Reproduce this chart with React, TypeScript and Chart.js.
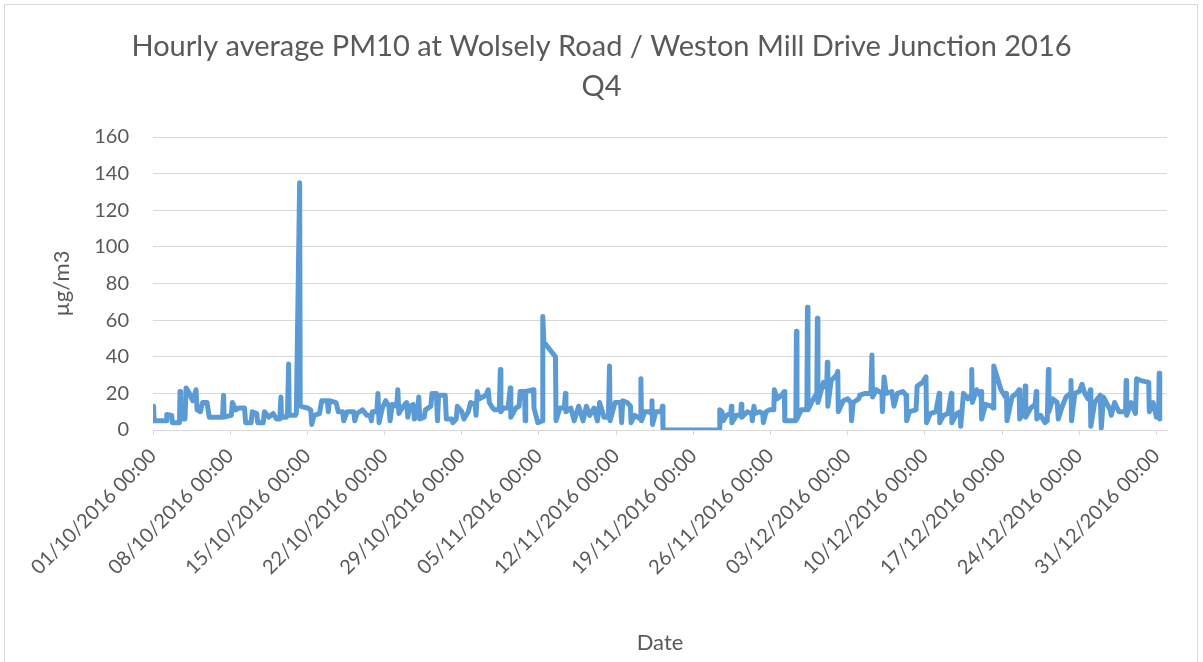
import React, { useEffect, useRef } from "react";
import { Chart, registerables } from "chart.js";

Chart.register(...registerables);

// Time in days since 01/10/2016 00:00 (hourly readings, change points)
const dayOffsets = [
  0.05, 0.1, 0.6, 1.2, 1.25, 1.7, 1.75, 2.4, 2.45, 2.5, 2.9, 3.0, 3.3, 3.6, 3.9, 4.0, 4.3, 4.5, 4.9, 5.1,
  5.5, 6.3, 6.4, 6.45, 7.1, 7.2, 7.5, 7.8, 8.3, 8.4, 8.9, 9.0, 9.4, 9.5, 10.0, 10.1, 10.5, 10.9, 11.2, 11.5,
  11.6, 11.65, 12.1, 12.2, 12.3, 12.35, 12.9, 13.0, 13.3, 13.35,
  14.0, 14.3, 14.4, 14.6, 15.1, 15.3, 15.8, 15.9, 16.0, 16.6, 16.8, 17.2, 17.3, 17.6, 18.2, 18.3, 18.5, 19.0,
  19.4, 19.7, 19.8, 19.9, 20.3, 20.4, 20.5, 20.8, 21.1, 21.4, 21.5, 21.7, 22.1, 22.2, 22.3, 22.7, 23.0, 23.1,
  23.3, 23.6, 23.7, 24.0, 24.1, 24.2, 24.6, 24.7, 25.2, 25.3, 25.7, 25.8, 25.9, 26.5, 26.6, 27.1, 27.2, 27.5,
  27.6, 28.0, 28.2, 28.6,
  28.8, 29.2, 29.3, 29.4, 29.6, 29.9, 30.2, 30.4, 30.5, 30.8, 31.0, 31.4, 31.5, 31.55, 31.8, 32.2, 32.4, 32.45,
  32.9, 33.2, 33.3, 33.7, 33.75, 33.8, 34.5, 34.55, 34.9, 35.3, 35.35, 35.45, 36.5, 36.55, 36.9, 37.3, 37.4,
  37.45, 37.9, 38.2, 38.6, 39.0, 39.3, 39.6, 40.0, 40.3, 40.5, 40.9, 41.3, 41.4, 41.45, 41.9, 42.4, 42.5, 42.6,
  43.0,
  43.3, 43.35, 43.7, 44.2, 44.25, 44.3, 44.6, 45.0, 45.2, 45.25, 45.3, 45.6, 46.1, 46.2, 46.25, 51.35, 51.4,
  51.6, 51.7, 52.0, 52.4, 52.45, 52.5, 52.9, 53.3, 53.35, 53.4, 53.9, 54.3, 54.35, 54.5, 54.6, 55.0, 55.3,
  55.35, 55.6, 55.9, 56.3, 56.35, 56.6, 57.0, 57.25, 57.3,
  58.3, 58.35, 58.4, 58.8, 59.3, 59.35, 59.4, 59.8, 60.2, 60.25, 60.3, 60.8, 61.1, 61.15, 61.2, 61.5, 62.0,
  62.1, 62.15, 62.6, 63.0, 63.3, 63.35, 63.5, 64.0, 64.1, 64.6, 65.1, 65.2, 65.25, 65.6, 66.1, 66.15, 66.3,
  66.5, 67.0, 67.2, 67.5, 68.0, 68.3, 68.35, 68.6, 69.2, 69.3, 69.8, 70.1, 70.15,
  70.5, 71.0, 71.3, 71.35, 71.7, 72.1, 72.4, 72.45, 72.9, 73.2, 73.25, 73.5, 73.9, 74.2, 74.25, 74.3, 74.7,
  75.0, 75.1, 75.15, 75.5, 76.0, 76.2, 76.25, 76.9, 77.3, 77.4, 77.45, 77.9, 78.3, 78.55, 78.6, 79.0, 79.1,
  79.15, 79.6, 80.0, 80.1, 80.15, 80.5, 80.9, 81.1, 81.2, 81.25, 81.6, 82.0, 82.1, 82.4, 82.8, 83.2, 83.25,
  83.3, 83.6, 84.0, 84.25, 84.5, 84.8, 85.0, 85.05, 85.4, 85.9, 86.0, 86.2, 86.8, 86.9, 87.2, 87.6, 88.2,
  88.25, 88.3, 88.7, 89.1, 89.2, 89.6, 90.3, 90.35, 90.7, 91.0, 91.2, 91.25, 91.3,
];

// Hourly average PM10 (µg/m3) at each change point
const pm10Values = [
  13, 5, 5, 5, 8.5, 8, 4, 4, 21, 6, 6, 23, 20, 16, 22, 11, 10, 15, 15, 7,
  7, 7, 19, 7, 8, 15, 11, 12, 12, 4, 4, 10, 9, 4, 4, 10, 7, 9, 6, 6,
  18, 7, 7, 10, 36, 8, 8, 9, 135, 13,
  12, 11, 3, 8, 9, 16, 16, 10, 16, 15, 10, 10, 5, 10, 10, 5, 9, 11,
  8, 8, 5, 10, 10, 20, 4, 12, 16, 13, 5, 14, 13, 22, 9, 13, 15, 7,
  13, 14, 6, 8, 18, 6, 7, 11, 13, 20, 20, 5, 19, 19, 6, 6, 4, 6,
  13, 10, 6, 10,
  15, 14, 8, 21, 17, 18, 19, 22, 15, 12, 11, 11, 33, 10, 12, 12, 23, 7,
  12, 13, 21, 21, 5, 21, 22, 12, 4, 5, 62, 48, 40, 5, 12, 12, 20,
  10, 12, 5, 13, 5, 13, 8, 12, 5, 15, 7, 7, 35, 5, 15, 15, 4, 16,
  15,
  13, 4, 8, 6, 28, 5, 10, 10, 9, 16, 3, 10, 10, 13, 0, 0, 11,
  10, 5, 8, 9, 13, 4, 8, 8, 14, 7, 10, 9, 5, 13, 9, 10, 9,
  4, 10, 11, 11, 22, 17, 19, 21, 5,
  5, 54, 6, 11, 11, 67, 11, 16, 20, 61, 15, 26, 23, 37, 13, 27, 30,
  32, 10, 16, 17, 15, 5, 15, 17, 19, 20, 20, 41, 18, 22, 20, 10, 29,
  20, 21, 13, 20, 21, 19, 5, 10, 11, 24, 26, 29, 4,
  9, 10, 20, 4, 8, 9, 20, 4, 9, 10, 2, 20, 17, 19, 33, 15, 22,
  19, 21, 6, 14, 13, 12, 35, 22, 18, 20, 5, 18, 20, 22, 6, 10, 24,
  7, 12, 14, 21, 6, 8, 4, 5, 33, 10, 17, 15, 6, 12, 18, 20, 27,
  5, 20, 21, 25, 20, 17, 22, 2, 15, 19, 1, 18, 11, 8, 15, 10, 10,
  27, 8, 15, 9, 28, 27, 26, 10, 15, 7, 8, 31, 6,
];

const tickDays = [0, 7, 14, 21, 28, 35, 42, 49, 56, 63, 70, 77, 84, 91];
const tickLabels = [
  "01/10/2016 00:00", "08/10/2016 00:00", "15/10/2016 00:00", "22/10/2016 00:00",
  "29/10/2016 00:00", "05/11/2016 00:00", "12/11/2016 00:00", "19/11/2016 00:00",
  "26/11/2016 00:00", "03/12/2016 00:00", "10/12/2016 00:00", "17/12/2016 00:00",
  "24/12/2016 00:00", "31/12/2016 00:00",
];
const lastHour = 91 + 23 / 24; // 31/12/2016 23:00

const titleLines = ["Hourly average PM10 at Wolsely Road / Weston Mill Drive Junction 2016", "Q4"];
const yTitle = "µg/m3";
const xTitle = "Date";

const TEXT = "#595959";
const GRID = "#d9d9d9";
const FONT = "Lato";

export default function App() {
  const ref = useRef<HTMLCanvasElement | null>(null);

  useEffect(() => {
    if (!ref.current) return;
    const points = dayOffsets.map((d, i) => ({ x: d, y: pm10Values[i] }));
    const chart = new Chart(ref.current, {
      type: "line",
      data: {
        datasets: [
          {
            data: points,
            borderColor: "#5B9BD5",
            borderWidth: 5,
            borderJoinStyle: "round",
            borderCapStyle: "round",
            pointRadius: 0,
            tension: 0,
            fill: false,
          },
        ],
      },
      options: {
        animation: false,
        responsive: false,
        maintainAspectRatio: false,
        layout: { padding: 0 },
        plugins: {
          legend: { display: false },
          tooltip: { enabled: false },
          title: {
            display: true,
            text: titleLines,
            color: TEXT,
            font: { family: FONT, size: 29, weight: "normal", lineHeight: 1.38 },
            padding: { top: 27, bottom: 30 },
          },
        },
        scales: {
          x: {
            type: "linear",
            min: 0,
            max: lastHour,
            afterBuildTicks: (s: any) => {
              s.ticks = tickDays.map((v) => ({ value: v }));
            },
            afterFit: (s: any) => {
              s.height = 232;
            },
            ticks: {
              autoSkip: false,
              minRotation: 45,
              maxRotation: 45,
              color: TEXT,
              padding: 9,
              font: { family: FONT, size: 20 },
              callback: (_v: any, i: number) => tickLabels[i],
            },
            grid: { drawOnChartArea: false, drawTicks: true, tickLength: 5, color: GRID },
            border: { display: true, color: GRID },
            title: {
              display: true,
              text: xTitle,
              color: TEXT,
              font: { family: FONT, size: 22 },
              padding: { top: 0, bottom: 6 },
            },
          },
          y: {
            min: 0,
            max: 160,
            afterFit: (s: any) => {
              s.width = 153;
            },
            ticks: {
              stepSize: 20,
              color: TEXT,
              padding: 24,
              font: { family: FONT, size: 20 },
            },
            grid: { color: GRID, drawTicks: false },
            border: { display: false },
            title: {
              display: true,
              text: yTitle,
              color: TEXT,
              font: { family: FONT, size: 22 },
              padding: { top: 49, bottom: 0 },
            },
          },
          yRight: {
            position: "right",
            display: true,
            min: 0,
            max: 160,
            afterFit: (s: any) => {
              s.width = 36;
            },
            ticks: { display: false },
            grid: { display: false, drawTicks: false },
            border: { display: false },
          },
        },
      },
    });
    return () => chart.destroy();
  }, []);

  return (
    <div style={{ position: "fixed", left: 0, top: 0, width: 1203, height: 662, background: "#fff" }}>
      <canvas ref={ref} width={1203} height={662} style={{ display: "block" }} />
      <div
        style={{
          position: "absolute",
          left: 4,
          top: 4,
          width: 1192,
          height: 700,
          border: "1px solid #d9d9d9",
          pointerEvents: "none",
        }}
      />
    </div>
  );
}
